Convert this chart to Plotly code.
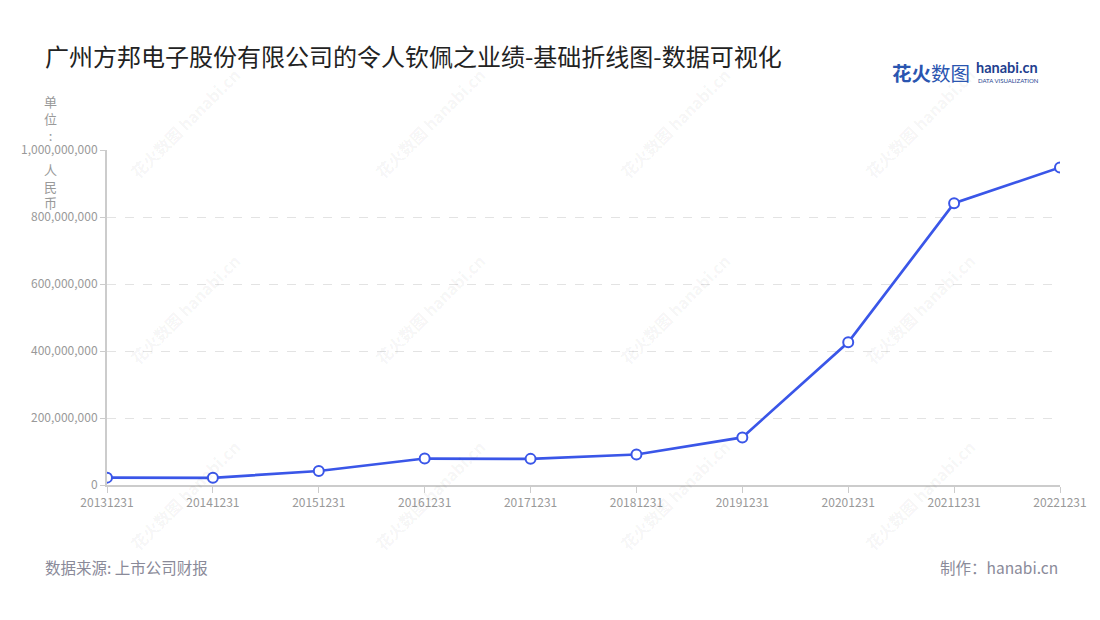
import plotly.graph_objects as go

categories = ["20131231", "20141231", "20151231", "20161231", "20171231",
              "20181231", "20191231", "20201231", "20211231", "20221231"]
values = [22000000, 21500000, 41800000, 79000000, 78000000,
          91000000, 142000000, 426000000, 841000000, 948000000]
y_ticks = [0, 200000000, 400000000, 600000000, 800000000, 1000000000]
y_ticktext = ["0", "200,000,000", "400,000,000", "600,000,000", "800,000,000", "1,000,000,000"]

title = "广州方邦电子股份有限公司的令人钦佩之业绩-基础折线图-数据可视化"
unit_label = "单<br>位<br>:<br> <br>人<br>民<br>币"
source_text = "数据来源: 上市公司财报"
maker_text = "制作：hanabi.cn"

FONT = "Noto Sans CJK SC"
W, H = 1100, 620
L, R, T, B = 107, 40, 150, 135
PW, PH = W - L - R, H - T - B


def px(x):
    return (x - L) / PW


def py(y):
    return (H - B - y) / PH


fig = go.Figure()
fig.add_trace(go.Scatter(
    x=categories, y=values, mode="lines+markers",
    line=dict(color="#3a56e8", width=2.7),
    marker=dict(symbol="circle", size=10, color="#ffffff",
                line=dict(color="#3a56e8", width=2)),
    hoverinfo="x+y", showlegend=False,
))

annotations = []
# watermarks
for cx in [185, 430, 675, 920]:
    for cy in [123, 309, 495]:
        annotations.append(dict(
            x=px(cx), y=py(cy), xref="paper", yref="paper",
            text="<b>花火数图</b> <b>hanabi.cn</b>", showarrow=False, textangle=-45,
            font=dict(family=FONT, size=16, color="rgba(0,0,0,0.05)"),
            xanchor="center", yanchor="middle",
        ))

annotations += [
    dict(x=px(43), y=py(55), xref="paper", yref="paper", text=title,
         showarrow=False, xanchor="left", yanchor="middle",
         font=dict(family=FONT, size=24, color="#222222")),
    dict(x=px(50), y=py(152), xref="paper", yref="paper", text=unit_label,
         showarrow=False, xanchor="center", yanchor="middle", align="center",
         font=dict(family=FONT, size=13, color="#999999")),
    dict(x=px(43), y=py(567), xref="paper", yref="paper", text=source_text,
         showarrow=False, xanchor="left", yanchor="middle",
         font=dict(family=FONT, size=15.5, color="#8a8a99")),
    dict(x=px(1060), y=py(567), xref="paper", yref="paper", text=maker_text,
         showarrow=False, xanchor="right", yanchor="middle",
         font=dict(family=FONT, size=15.5, color="#8a8a99")),
    # logo
    dict(x=px(972), y=py(73), xref="paper", yref="paper", text="<b>花火</b>数图",
         showarrow=False, xanchor="right", yanchor="middle",
         font=dict(family=FONT, size=19.5, color="#2a55b0")),
    dict(x=px(974), y=py(68), xref="paper", yref="paper", text="<b>hanabi.cn</b>",
         showarrow=False, xanchor="left", yanchor="middle",
         font=dict(family="Lato", size=14.5, color="#1f3f8f")),
    dict(x=px(976), y=py(80), xref="paper", yref="paper", text="DATA VISUALIZATION",
         showarrow=False, xanchor="left", yanchor="middle",
         font=dict(family="Lato", size=6, color="#1f3f8f")),
]

fig.update_layout(
    width=W, height=H,
    margin=dict(l=L, r=R, t=T, b=B),
    paper_bgcolor="#ffffff", plot_bgcolor="#ffffff",
    font=dict(family=FONT, size=12, color="#999999"),
    annotations=annotations,
    xaxis=dict(
        type="category", range=[0, len(categories) - 1],
        showgrid=False, showline=True, linecolor="#cccccc", linewidth=2,
        ticks="outside", ticklen=6, tickcolor="#cccccc", tickwidth=1,
        tickfont=dict(family=FONT, size=12, color="#999999"),
        zeroline=False, fixedrange=True,
    ),
    yaxis=dict(
        range=[0, 1000000000], tickvals=y_ticks, ticktext=y_ticktext,
        showgrid=True, gridcolor="#e3e3e3", griddash="dash", gridwidth=1,
        showline=True, linecolor="#cccccc", linewidth=2,
        ticks="outside", ticklen=5, tickcolor="#cccccc",
        tickfont=dict(family=FONT, size=12, color="#999999"),
        zeroline=False, fixedrange=True,
    ),
)

fig.write_html("out.html")
